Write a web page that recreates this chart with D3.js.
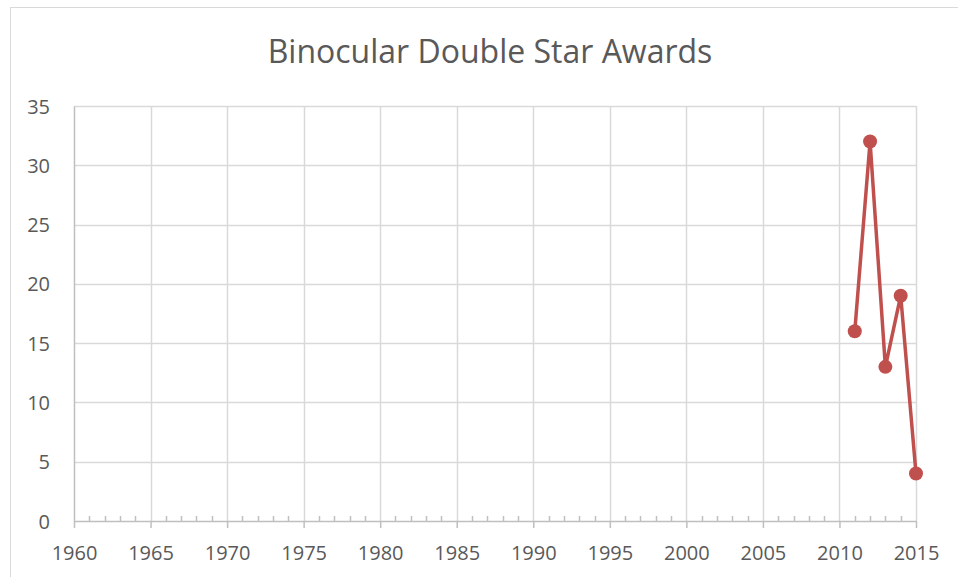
<!DOCTYPE html>
<html>
<head>
<meta charset="utf-8">
<script src="https://cdn.jsdelivr.net/npm/d3@7"></script>
<style>
  body { margin: 0; background: #fff; }
  text { font-family: "Open Sans", "Noto Sans", sans-serif; fill: #595959; }
</style>
</head>
<body>
<svg id="chart" width="958" height="577"></svg>
<script>
// data
var years = [2011, 2012, 2013, 2014, 2015];
var awards = [16, 32, 13, 19, 4];
var xTicks = [1960, 1965, 1970, 1975, 1980, 1985, 1990, 1995, 2000, 2005, 2010, 2015];
var yTicks = [0, 5, 10, 15, 20, 25, 30, 35];
var title = "Binocular Double Star Awards";

var svg = d3.select("#chart");
var margin = { top: 106, right: 42, bottom: 56, left: 74 };
var width = +svg.attr("width") - margin.left - margin.right;
var height = +svg.attr("height") - margin.top - margin.bottom;

// chart frame
svg.append("rect")
    .attr("x", 10.5).attr("y", 7.5)
    .attr("width", 960).attr("height", 600)
    .attr("fill", "none").attr("stroke", "#d9d9d9");

svg.append("text")
    .attr("x", 490).attr("y", 63)
    .attr("text-anchor", "middle")
    .style("font-size", "32px")
    .text(title);

var g = svg.append("g").attr("transform", "translate(" + margin.left + "," + margin.top + ")");

var x = d3.scaleLinear().domain([1960, 2015]).range([0, width]);
var y = d3.scaleLinear().domain([0, 35]).range([height, 0]);

// gridlines
g.append("g").selectAll("line")
    .data(yTicks.slice(1))
    .enter().append("line")
    .attr("x1", 0).attr("x2", width)
    .attr("y1", function (d) { return Math.round(y(d)) + 0.5; })
    .attr("y2", function (d) { return Math.round(y(d)) + 0.5; })
    .attr("stroke", "#d9d9d9").attr("stroke-width", 1.5);
g.append("g").selectAll("line")
    .data(xTicks.slice(1))
    .enter().append("line")
    .attr("x1", function (d) { return Math.round(x(d)) + 0.5; })
    .attr("x2", function (d) { return Math.round(x(d)) + 0.5; })
    .attr("y1", 0).attr("y2", height)
    .attr("stroke", "#d9d9d9").attr("stroke-width", 1.5);

// y axis
var yAxis = g.append("g")
    .call(d3.axisLeft(y).tickValues(yTicks).tickSize(0).tickPadding(24));
yAxis.select(".domain").attr("stroke", "#bfbfbf").attr("stroke-width", 1.5);
yAxis.selectAll("text").style("font-size", "20px").attr("dy", "0.35em");

// x axis: minor ticks every year inside, major ticks outside
var minor = d3.range(1960, 2016).filter(function (d) { return d % 5 !== 0; });
g.append("g").selectAll("line")
    .data(minor)
    .enter().append("line")
    .attr("x1", function (d) { return Math.round(x(d)) + 0.5; })
    .attr("x2", function (d) { return Math.round(x(d)) + 0.5; })
    .attr("y1", height - 5).attr("y2", height)
    .attr("stroke", "#bfbfbf").attr("stroke-width", 1.5);

var xAxis = g.append("g")
    .attr("transform", "translate(0," + height + ")")
    .call(d3.axisBottom(x).tickValues(xTicks).tickFormat(d3.format("d")).tickSizeInner(7).tickSizeOuter(0).tickPadding(18));
xAxis.select(".domain").attr("stroke", "#bfbfbf").attr("stroke-width", 1.5);
xAxis.selectAll(".tick line").attr("stroke", "#bfbfbf").attr("stroke-width", 1.5);
xAxis.selectAll("text").style("font-size", "20px");

// series
var pts = years.map(function (d, i) { return { year: d, value: awards[i] }; });
var line = d3.line()
    .x(function (d) { return x(d.year); })
    .y(function (d) { return y(d.value); });

g.append("path")
    .datum(pts)
    .attr("d", line)
    .attr("fill", "none")
    .attr("stroke", "#c0504d")
    .attr("stroke-width", 3.5)
    .attr("stroke-linejoin", "round");

g.selectAll(".dot")
    .data(pts)
    .enter().append("circle")
    .attr("class", "dot")
    .attr("cx", function (d) { return x(d.year); })
    .attr("cy", function (d) { return y(d.value); })
    .attr("r", 7)
    .attr("fill", "#c0504d");
</script>
</body>
</html>
